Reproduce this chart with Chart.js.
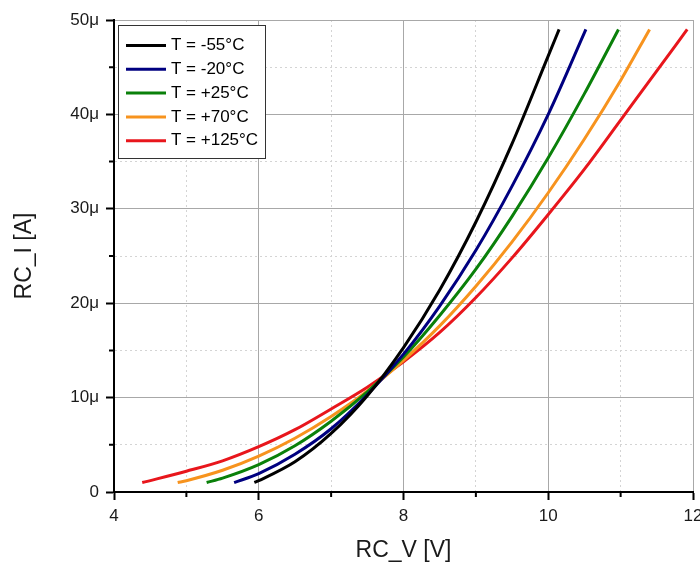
<!DOCTYPE html>
<html>
<head>
<meta charset="utf-8">
<script src="https://cdn.jsdelivr.net/npm/chart.js@4.4.1/dist/chart.umd.min.js"></script>
<style>
  html, body { margin: 0; padding: 0; background: #fff; overflow: hidden; }
  #wrap { width: 710px; height: 565px; }
</style>
</head>
<body>
<div id="wrap"><canvas id="ivChart" width="710" height="565"></canvas></div>
<script>
// ===== DATA (RC_V in volts, RC_I in microamps) =====
const seriesLabels = ["T = -55°C", "T = -20°C", "T = +25°C", "T = +70°C", "T = +125°C"];
const seriesColors = ["#000000", "#000080", "#0a800a", "#f7931e", "#e8161c"];

const vM55 = [5.94, 6.0, 6.5, 7.0, 7.5, 8.0, 8.5, 9.0, 9.5, 10.0, 10.15];
const iM55 = [1.0, 1.2, 3.2, 6.2, 10.2, 15.3, 21.4, 28.6, 36.9, 46.2, 49.0];

const vM20 = [5.66, 6.0, 6.5, 7.0, 7.5, 8.0, 8.5, 9.0, 9.5, 10.0, 10.52];
const iM20 = [1.0, 1.95, 4.0, 6.7, 10.3, 14.6, 19.7, 25.6, 32.4, 40.0, 49.0];

const vP25 = [5.28, 5.5, 6.0, 6.5, 7.0, 7.5, 8.0, 8.5, 9.0, 9.5, 10.0, 10.5, 10.97];
const iP25 = [1.0, 1.47, 2.9, 4.9, 7.5, 10.6, 14.3, 18.7, 23.6, 29.2, 35.4, 42.2, 49.0];

const vP70 = [4.88, 5.0, 5.5, 6.0, 6.5, 7.0, 7.5, 8.0, 8.5, 9.0, 9.5, 10.0, 10.5, 11.0, 11.4];
const iP70 = [1.0, 1.2, 2.3, 3.8, 5.7, 8.0, 10.7, 13.95, 17.6, 21.8, 26.5, 31.7, 37.4, 43.6, 49.0];

const vP125 = [4.39, 5.0, 5.5, 6.0, 6.5, 7.0, 7.5, 8.0, 8.5, 9.0, 9.5, 10.0, 10.5, 11.0, 11.5, 11.92];
const iP125 = [1.0, 2.2, 3.3, 4.8, 6.6, 8.8, 11.1, 13.8, 16.9, 20.6, 24.8, 29.4, 34.2, 39.4, 44.6, 49.0];

const xMajor = [4, 6, 8, 10, 12];
const xTickLabels = ["4", "6", "8", "10", "12"];
const yMajor = [0, 10, 20, 30, 40, 50];
const yTickLabels = ["0", "10μ", "20μ", "30μ", "40μ", "50μ"];

const FONT = "Arial, 'Liberation Sans', sans-serif";

function toPoints(xs, ys) {
  return xs.map((x, i) => ({ x: x, y: ys[i] }));
}

const seriesV = [vM55, vM20, vP25, vP70, vP125];
const seriesI = [iM55, iM20, iP25, iP70, iP125];

// ===== PLUGINS =====
// short minor tick marks (chart.js has one tick length only)
const minorTicks = {
  id: "minorTicks",
  afterDraw(chart) {
    const ctx = chart.ctx;
    const xs = chart.scales.x, ys = chart.scales.y;
    ctx.save();
    ctx.strokeStyle = "#000";
    ctx.lineWidth = 2;
    ctx.beginPath();
    xs.ticks.forEach(t => {
      if (xMajor.includes(t.value)) return;
      const px = xs.getPixelForValue(t.value);
      ctx.moveTo(px, xs.top);
      ctx.lineTo(px, xs.top + 5);
    });
    ys.ticks.forEach(t => {
      if (yMajor.includes(t.value)) return;
      const py = ys.getPixelForValue(t.value);
      ctx.moveTo(ys.right - 5, py);
      ctx.lineTo(ys.right, py);
    });
    ctx.stroke();
    ctx.restore();
  }
};

// framed legend in the top-left corner of the plot
const legendBox = {
  id: "legendBox",
  afterDraw(chart) {
    const { ctx, chartArea } = chart;
    const x = chartArea.left + 4, y = chartArea.top + 5, w = 147, h = 133;
    ctx.save();
    ctx.fillStyle = "#fff";
    ctx.fillRect(x, y, w, h);
    ctx.strokeStyle = "#333";
    ctx.lineWidth = 1;
    ctx.strokeRect(x + 0.5, y + 0.5, w, h);
    ctx.font = "17px " + FONT;
    ctx.textBaseline = "middle";
    chart.data.datasets.forEach((ds, i) => {
      const ry = y + 20.5 + i * 23.8;
      ctx.strokeStyle = ds.borderColor;
      ctx.lineWidth = 3;
      ctx.beginPath();
      ctx.moveTo(x + 8, ry);
      ctx.lineTo(x + 48, ry);
      ctx.stroke();
      ctx.fillStyle = "#000";
      ctx.fillText(ds.label, x + 53, ry);
    });
    ctx.restore();
  }
};

// ===== CHART =====
function gridColor(majors) {
  return ctx => (ctx.tick && majors.includes(ctx.tick.value)) ? "#a8a8a8" : "#d4d4d4";
}
function gridDash(majors) {
  return ctx => (ctx.tick && !majors.includes(ctx.tick.value)) ? [2, 3] : [];
}
function tickColor(majors) {
  return ctx => (ctx.tick && majors.includes(ctx.tick.value)) ? "#000" : "rgba(0,0,0,0)";
}

const ivChart = new Chart(document.getElementById("ivChart"), {
  type: "scatter",
  data: {
    datasets: seriesLabels.map((label, i) => ({
      label: label,
      data: toPoints(seriesV[i], seriesI[i]),
      borderColor: seriesColors[i],
      backgroundColor: seriesColors[i],
      showLine: true,
      borderWidth: 3,
      pointRadius: 0,
      cubicInterpolationMode: "monotone"
    }))
  },
  options: {
    responsive: false,
    animation: false,
    layout: { padding: { top: 20, right: 17, left: 0, bottom: 0 } },
    plugins: {
      legend: { display: false },
      tooltip: { enabled: false }
    },
    scales: {
      x: {
        type: "linear",
        min: 4,
        max: 12,
        ticks: {
          stepSize: 1,
          autoSkip: false,
          maxRotation: 0,
          padding: 6,
          color: "#1a1a1a",
          font: { family: FONT, size: 17 },
          callback: v => {
            const k = xMajor.indexOf(v);
            return k >= 0 ? xTickLabels[k] : "";
          }
        },
        grid: {
          color: gridColor(xMajor),
          lineWidth: 1,
          tickLength: 8,
          tickWidth: 2,
          tickColor: tickColor(xMajor)
        },
        border: { color: "#000", width: 2, dash: gridDash(xMajor) },
        title: {
          display: true,
          text: "RC_V [V]",
          color: "#1a1a1a",
          font: { family: FONT, size: 23 },
          padding: { top: 0, bottom: 1 }
        },
        afterFit(scale) { scale.height = 73; }
      },
      y: {
        type: "linear",
        min: 0,
        max: 50,
        ticks: {
          stepSize: 5,
          autoSkip: false,
          padding: 7,
          color: "#1a1a1a",
          font: { family: FONT, size: 17 },
          callback: v => {
            const k = yMajor.indexOf(v);
            return k >= 0 ? yTickLabels[k] : "";
          }
        },
        grid: {
          color: gridColor(yMajor),
          lineWidth: 1,
          tickLength: 8,
          tickWidth: 2,
          tickColor: tickColor(yMajor)
        },
        border: { color: "#000", width: 2, dash: gridDash(yMajor) },
        title: {
          display: true,
          text: "RC_I [A]",
          color: "#1a1a1a",
          font: { family: FONT, size: 23 },
          padding: { top: 11, bottom: 0 }
        },
        afterFit(scale) { scale.width = 114; }
      }
    }
  },
  plugins: [minorTicks, legendBox]
});
</script>
</body>
</html>
